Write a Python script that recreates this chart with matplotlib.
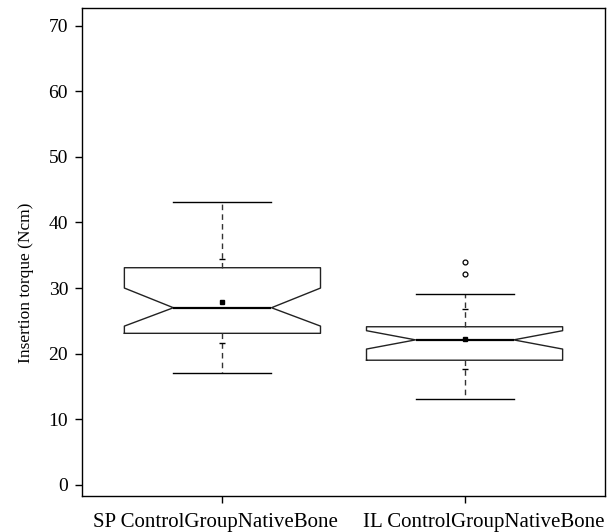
import matplotlib.pyplot as plt
from matplotlib.transforms import ScaledTranslation

plt.rcParams["font.family"] = ["Liberation Serif", "DejaVu Serif"]

groups = ["SP ControlGroupNativeBone", "IL ControlGroupNativeBone"]
medians = [27.0, 22.1]
q1 = [23.1, 19.0]
q3 = [33.1, 24.1]
whisker_low = [17.1, 13.1]
whisker_high = [43.1, 29.1]
means = [27.85, 22.25]
notch_low = [24.2, 20.7]
notch_high = [30.0, 23.5]
outliers = [[], [32.1, 34.0]]
# small marks drawn on the whiskers
marks_low = [21.6, 17.7]
marks_high = [34.45, 26.8]

stats = []
for i in range(len(groups)):
    stats.append({
        "med": medians[i], "q1": q1[i], "q3": q3[i],
        "whislo": whisker_low[i], "whishi": whisker_high[i],
        "mean": means[i], "cilo": notch_low[i], "cihi": notch_high[i],
        "fliers": outliers[i], "label": groups[i],
    })

fig = plt.figure(figsize=(6.07, 5.32), dpi=100)
ax = fig.add_axes([0.1351, 0.0677, 0.8616, 0.9173])

positions = [1, 2]
ax.bxp(
    stats, positions=positions, widths=0.81, shownotches=True, showmeans=True,
    boxprops=dict(color="#222222", linewidth=1.0),
    medianprops=dict(color="black", linewidth=1.6),
    whiskerprops=dict(color="#333333", linewidth=1.0, linestyle=(0, (4, 3))),
    capprops=dict(color="black", linewidth=1.0),
    meanprops=dict(marker="s", markerfacecolor="black", markeredgecolor="black", markersize=3.5),
    flierprops=dict(marker="o", markerfacecolor="none", markeredgecolor="black",
                    markersize=3.5, markeredgewidth=0.9),
)

ax.plot(positions, marks_low, linestyle="none", marker="_", color="black", markersize=5, markeredgewidth=1.0)
ax.plot(positions, marks_high, linestyle="none", marker="_", color="black", markersize=5, markeredgewidth=1.0)

ax.set_xlim(0.42, 2.58)
ax.set_ylim(-1.7, 72.7)
ax.set_yticks(range(0, 71, 10))
ax.set_xticks(positions)
ax.set_xticklabels(groups)
ax.tick_params(direction="out", length=5, width=1.0, colors="black")
ax.tick_params(axis="y", labelsize=14, pad=5)
ax.tick_params(axis="x", labelsize=15, pad=7)
ax.set_ylabel("Insertion torque (Ncm)", fontsize=12.5)
ax.yaxis.set_label_coords(-0.092, 0.436)

# labels in the reference sit a little apart from their ticks
for lab, dx in zip(ax.get_xticklabels(), [-0.07, 0.19]):
    lab.set_transform(lab.get_transform() + ScaledTranslation(dx, 0, fig.dpi_scale_trans))

for s in ax.spines.values():
    s.set_linewidth(1.0)

fig.savefig("out.png", dpi=100)
